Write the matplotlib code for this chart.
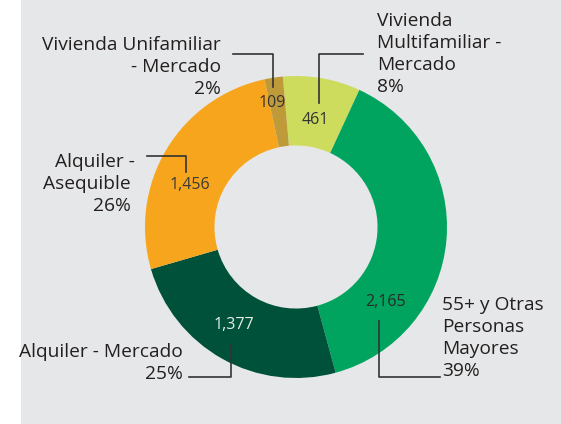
import matplotlib
matplotlib.use("Agg")
import matplotlib.pyplot as plt
from matplotlib.patches import Rectangle

plt.rcParams['font.family'] = ['Open Sans', 'DejaVu Sans']

# data, clockwise from the top
values = [461, 2165, 1377, 1456, 109]
percents = ['8%', '39%', '25%', '26%', '2%']
names = [
    ['Vivienda', 'Multifamiliar -', 'Mercado'],
    ['55+ y Otras', 'Personas', 'Mayores'],
    ['Alquiler - Mercado'],
    ['Alquiler -', 'Asequible'],
    ['Vivienda Unifamiliar', '- Mercado'],
]
colors = ['#cedc5d', '#00a45f', '#00513a', '#f8a51e', '#be9b38']
value_colors = ['#333333', '#2a2a2a', '#e8efe9', '#3a3a3a', '#333333']

W, H = 561, 424
fig = plt.figure(figsize=(W / 100, H / 100), dpi=100)
fig.patch.set_facecolor('white')
fig.patches.append(Rectangle((21 / W, 0), 1 - 21 / W, 1, transform=fig.transFigure,
                             fc='#e6e7e8', ec='none', zorder=-10))

ax = fig.add_axes([0, 0, 1, 1])
ax.set_facecolor('none')

def Y(y):
    return H - y

ax.pie(values, colors=colors, startangle=95, counterclock=False,
       center=(296, Y(227)), radius=151,
       wedgeprops=dict(width=151 * 0.46, edgecolor='none', linewidth=0))
ax.set_xlim(0, W)
ax.set_ylim(0, H)
ax.set_aspect('equal')
ax.axis('off')

# value labels inside the ring
val_pos = [(315, 120), (386, 302), (234, 325), (190, 185), (272, 103)]
for v, (x, y), c in zip(values, val_pos, value_colors):
    ax.text(x, Y(y), f'{v:,}', ha='center', va='center', fontsize=11.5, color=c)

# category labels: (x, first line y, alignment)
lab_pos = [(377, 21, 'left'), (442, 305, 'left'), (183, 352, 'right'),
           (135, 162, 'right'), (221, 45, 'right')]
line_h = 22
for lines, pct, (x, y0, ha) in zip(names, percents, lab_pos):
    for k, s in enumerate(lines + [pct]):
        xx = x - 4 if (ha == 'right' and k > 0 and lines[0].endswith('-')) else x
        ax.text(xx, Y(y0 + k * line_h), s, ha=ha, va='center', fontsize=13.8,
                color='#231f20')

# leader lines
leaders = [
    [(363, 54), (319, 54), (319, 103)],
    [(440, 377), (379, 377), (379, 321)],
    [(189, 377), (231, 377), (231, 345)],
    [(147, 156), (186, 156), (186, 172)],
    [(233, 54), (273, 54), (273, 87)],
]
for pts in leaders:
    ax.plot([p[0] for p in pts], [Y(p[1]) for p in pts], color='#333333', lw=1.2)

fig.savefig('out.png', dpi=100)
